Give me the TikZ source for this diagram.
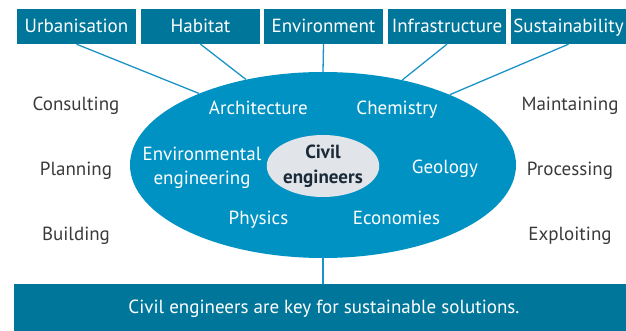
\documentclass[tikz,border=0pt]{standalone}
\usepackage{fontspec}
\setmainfont{PT Sans}
\usetikzlibrary{shapes.geometric}
\definecolor{boxfill}{HTML}{00769A}
\definecolor{ellfill}{HTML}{0092C3}
\definecolor{linecol}{HTML}{1B93C6}
\definecolor{textgray}{HTML}{3A3A3A}
\definecolor{innerfill}{HTML}{E1E5E9}
\definecolor{innertext}{HTML}{1B2A38}
\begin{document}
\begin{tikzpicture}[x=1pt,y=-1pt,
  lbl/.style={font=\fontsize{19}{24}\selectfont},
  oneline/.style={lbl,inner sep=0pt,text height=13pt,text depth=4pt},
  topbox/.style={lbl,fill=boxfill,text=white,minimum height=35pt,inner sep=0pt,text height=15pt,text depth=3pt},
  side/.style={oneline,text=textgray},
  field/.style={oneline,text=white},
  conn/.style={draw=linecol,line width=1.3pt}]
\useasboundingbox (0,0) rectangle (626,331);
% top boxes
\node[topbox,minimum width=119pt] (urb) at (76.5,26.5) {Urbanisation};
\node[topbox,minimum width=119pt] (hab) at (200.5,26.5) {Habitat};
\node[topbox,minimum width=119pt] (env) at (323.5,26.5) {Environment};
\node[topbox,minimum width=118pt] (inf) at (447,26.5) {Infrastructure};
\node[topbox,minimum width=115pt] (sus) at (568.5,26.5) {Sustainability};
% main ellipse
\node[ellipse,fill=ellfill,minimum width=386pt,minimum height=186pt,inner sep=0pt] (ell) at (323,165) {};
% connectors
\draw[conn] (urb.south) -- (ell.150);
\draw[conn] (hab.south) -- (ell.132);
\draw[conn] (env.south) -- (ell.north);
\draw[conn] (inf.south) -- (ell.47);
\draw[conn] (sus.south) -- (ell.29.5);
% bottom bar
\node[fill=boxfill,minimum width=612pt,minimum height=47pt,inner sep=0pt] (bar) at (320,307.5) {};
\node[oneline,text=white] (bartext) at (324,308.5) {Civil engineers are key for sustainable solutions.};
\draw[conn] (ell.south) -- (bar.north -| ell.south);
% inner ellipse
\node[ellipse,fill=innerfill,minimum width=112pt,minimum height=62pt,inner sep=0pt,text=innertext,align=center,font={\fontsize{19}{25}\selectfont\bfseries}] (civ) at (323,166) {Civil\\engineers};
% fields
\node[field] (arch) at (258.3,109.8) {Architecture};
\node[field] (chem) at (397,109.8) {Chemistry};
\node[lbl,text=white,align=center,inner sep=0pt] (enveng) at (202,167.5) {Environmental\\engineering};
\node[field] (geo) at (445,168.8) {Geology};
\node[field] (phys) at (258.5,219.8) {Physics};
\node[field] (econ) at (396.5,219.8) {Economies};
% side labels
\node[side] (cons) at (76,106.5) {Consulting};
\node[side] (plan) at (76,171) {Planning};
\node[side] (build) at (76,235.5) {Building};
\node[side] (main) at (570,106.5) {Maintaining};
\node[side] (proc) at (570,171) {Processing};
\node[side] (expl) at (570,235.5) {Exploiting};
\end{tikzpicture}
\end{document}
